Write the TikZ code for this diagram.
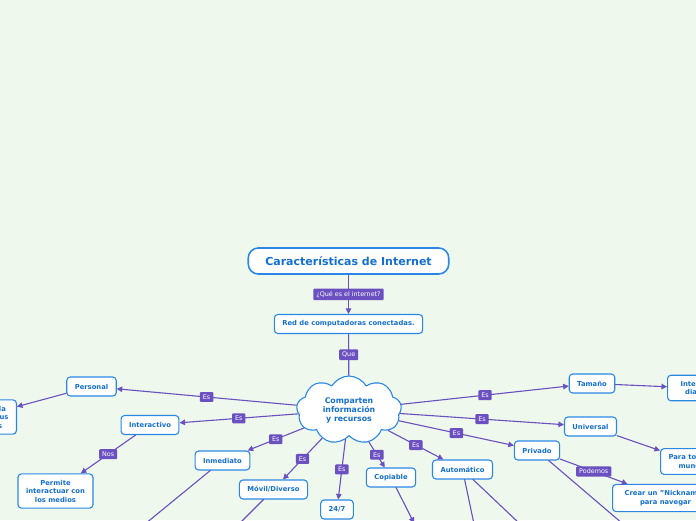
\documentclass[tikz,border=0pt]{standalone}
\usepackage{fontspec}
\setmainfont{DejaVu Sans}
\usetikzlibrary{shapes.symbols,arrows.meta}
\definecolor{fondo}{HTML}{EFF8EC}
\definecolor{azul}{HTML}{2A88E4}
\definecolor{azultexto}{HTML}{1470D0}
\definecolor{morado}{HTML}{6A50C0}

\begin{document}
\begin{tikzpicture}[x=1pt, y=-1pt, >={Triangle[length=5.5pt,width=5.5pt]}, line join=round, line cap=round,
	caja/.style={draw=azul, fill=white, line width=1.1pt, rounded corners=3.5pt, text=azultexto,
		font=\fontsize{6.8}{8.5}\selectfont\bfseries, align=center, inner xsep=8pt, inner ysep=6pt, minimum height=19pt},
	etiqueta/.style={fill=morado, text=white, font=\fontsize{6.4}{7}\selectfont, inner xsep=3pt, inner ysep=2.6pt, rounded corners=1pt},
	rama/.style={draw=morado, line width=1.1pt}]
	\path[use as bounding box, fill=fondo] (0,0) rectangle (696,520);

	% Nodos
	\node[caja, font=\fontsize{11}{13}\selectfont\bfseries, line width=1.6pt, rounded corners=10pt, inner xsep=17pt, minimum height=26pt] (titulo) at (348.5,261) {Características de Internet};
	\node[caja] (red) at (348.5,324) {Red de computadoras conectadas.};
	\node[cloud, cloud puffs=9, cloud puff arc=120, aspect=1.5, draw=azul, fill=white, line width=1.1pt, text=azultexto,
		font=\fontsize{7.8}{9}\selectfont\bfseries, align=center, minimum width=105pt, minimum height=68pt, inner sep=0pt] (nube) at (349,410) {Comparten\\información\\y recursos};
	\node[caja] (personal) at (91.5,386.5) {Personal};
	\node[caja] (interactivo) at (150,425) {Interactivo};
	\node[caja] (inmediato) at (222.5,460.5) {Inmediato};
	\node[caja] (movil) at (273.5,489.5) {Móvil/Diverso};
	\node[caja] (siete) at (337,509.5) {24/7};
	\node[caja] (copiable) at (391,477.5) {Copiable};
	\node[caja] (automatico) at (462.5,469.5) {Automático};
	\node[caja] (privado) at (537,450.5) {Privado};
	\node[caja] (universal) at (590.5,426.5) {Universal};
	\node[caja] (tamano) at (592,383.5) {Tamaño};
	\node[caja] (permite) at (55.5,491) {Permite\\interactuar con\\los medios};
	\node[caja, anchor=east] (adapta) at (17,417) {Se adapta a la\\persona y a sus\\necesidades};
	\node[caja, anchor=west, inner xsep=13pt] (diario) at (667,388) {Internet\\diario};
	\node[caja, anchor=west] (mundo) at (660,461.5) {Para todo el\\mundo};
	\node[caja, anchor=west, inner xsep=12pt] (nick) at (612,498) {Crear un "Nickname"\\para navegar};

	% Extremos fuera del cuadro
	\coordinate (fin1) at (145,524);
	\coordinate (fin2) at (239,524);
	\coordinate (fin3) at (414,523);
	\coordinate (fin4) at (474,524);
	\coordinate (fin5) at (520,524);
	\coordinate (fin6) at (623,524);

	% Ramas
	\draw[rama,->] (titulo) -- node[etiqueta]{¿Qué es el internet?} (red);
	\draw[rama] (red) -- node[etiqueta]{Que} (nube);
	\foreach \destino in {personal,interactivo,inmediato,movil,siete,copiable,automatico,privado,universal,tamano}
		\draw[rama,->] (nube) -- node[etiqueta]{Es} (\destino);
	\draw[rama,->] (interactivo) -- node[etiqueta]{Nos} (permite);
	\draw[rama,->] (personal) -- (adapta);
	\draw[rama,->] (tamano) -- (diario);
	\draw[rama,->] (universal) -- (mundo);
	\draw[rama,->] (privado) -- node[etiqueta]{Podemos} (nick);
	\draw[rama] (inmediato) -- (fin1);
	\draw[rama] (movil) -- (fin2);
	\draw[rama,->] (copiable) -- (fin3);
	\draw[rama] (automatico) -- (fin4);
	\draw[rama] (automatico) -- (fin5);
	\draw[rama] (privado) -- (fin6);
\end{tikzpicture}
\end{document}
